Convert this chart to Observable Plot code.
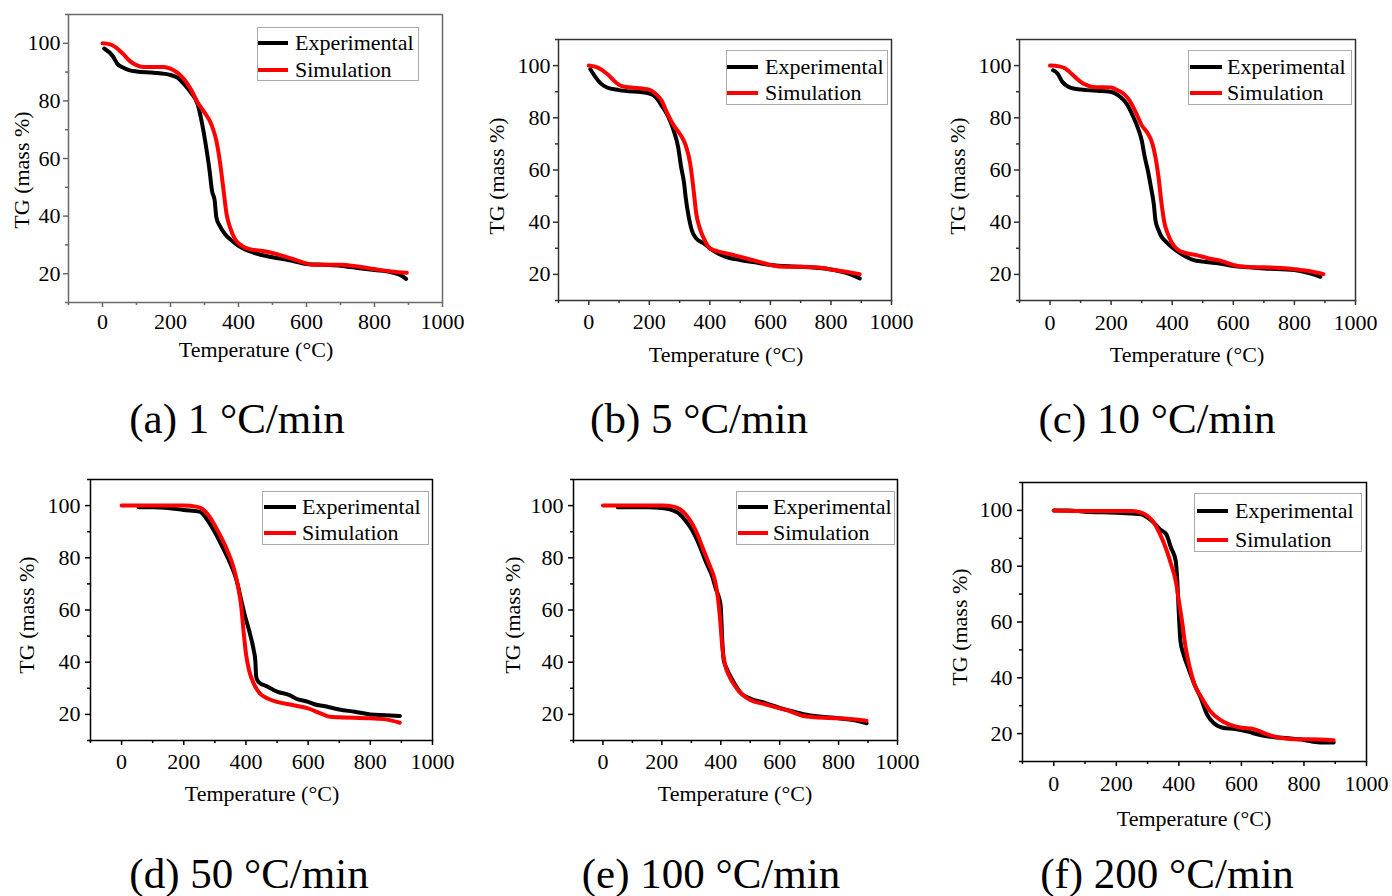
<!DOCTYPE html>
<html>
<head>
<meta charset="utf-8">
<script src="https://cdn.jsdelivr.net/npm/d3@7"></script>
<script src="https://cdn.jsdelivr.net/npm/@observablehq/plot@0.6"></script>
<style>
  html, body { margin: 0; padding: 0; background: #fff; }
  #root { position: relative; width: 1392px; height: 896px; overflow: hidden; background: #fff; font-family: "Liberation Serif", "Times New Roman", serif; color: #000; }
  #root svg, #root svg text { font-family: "Liberation Serif", "Times New Roman", serif !important; }
  .lbl { position: absolute; white-space: nowrap; line-height: 1; transform: translate(-50%, -50%); }
  .ylbl { position: absolute; white-space: nowrap; line-height: 1; transform: translate(-50%, -50%) rotate(-90deg); }
  .legend { position: absolute; border: 1px solid #aaa; background: #fff; box-sizing: border-box; }
  .legline { position: absolute; height: 4px; }
  .legtext { position: absolute; white-space: nowrap; line-height: 1; transform: translateY(-50%); font-size: 22px; }
</style>
</head>
<body>
<div id="root"></div>
<script>
// ---------------- data ----------------
const xMajorTicks = [0, 200, 400, 600, 800, 1000];
const xMinorTicks = [-100, 100, 300, 500, 700, 900];
const yMajorTicks = [20, 40, 60, 80, 100];
const yMinorTicks = [10, 30, 50, 70, 90, 110];
const seriesNames = ["Experimental", "Simulation"];
const captions = ["(a) 1 °C/min", "(b) 5 °C/min", "(c) 10 °C/min", "(d) 50 °C/min", "(e) 100 °C/min", "(f) 200 °C/min"];

// (a) 1 °C/min
const aExpT  = [5, 30, 45, 60, 80, 100, 150, 200, 220, 240, 260, 280, 295, 305, 315, 322, 330, 335, 345, 360, 380, 400, 450, 500, 550, 600, 650, 700, 750, 800, 850, 880, 893];
const aExpTG = [98.2, 95.6, 92.7, 91.6, 90.6, 90.2, 89.8, 89.0, 88.1, 85.8, 82.9, 78.8, 70.8, 63.8, 55.7, 48.8, 45.3, 39.5, 36.6, 33.8, 31.5, 29.7, 27.1, 25.7, 24.7, 23.4, 23.1, 22.8, 22.0, 21.3, 20.5, 19.3, 18.2];
const aSimT  = [0, 20, 40, 60, 80, 100, 120, 180, 200, 220, 240, 260, 280, 300, 320, 335, 345, 355, 365, 375, 390, 410, 430, 480, 530, 560, 600, 620, 700, 750, 800, 850, 895];
const aSimTG = [100, 99.7, 98.5, 96.4, 93.9, 92.4, 91.8, 91.8, 91.2, 89.8, 87.5, 84.0, 79.4, 76.0, 71.9, 66.1, 59.2, 50.0, 40.7, 36.1, 32.0, 29.7, 28.6, 27.7, 26.2, 25.1, 23.6, 23.1, 23.1, 22.5, 21.6, 20.8, 20.3];

// (b) 5 °C/min
const bExpT  = [5, 40, 60, 100, 200, 220, 240, 260, 280, 295, 305, 315, 320, 330, 340, 355, 380, 400, 450, 500, 550, 600, 700, 800, 850, 895];
const bExpTG = [98.6, 93.1, 91.6, 90.6, 89.3, 88.0, 84.8, 81.0, 75.3, 68.9, 61.2, 54.8, 49.7, 42.1, 37.0, 33.8, 31.9, 30.0, 26.8, 25.5, 24.6, 23.6, 22.9, 21.9, 20.6, 18.5];
const bSimT  = [0, 30, 60, 90, 110, 200, 220, 240, 260, 280, 300, 320, 335, 345, 355, 365, 380, 400, 430, 480, 530, 570, 600, 650, 700, 760, 800, 850, 895];
const bSimTG = [100, 99.2, 96.9, 93.5, 92.1, 90.8, 89.3, 86.7, 81.6, 77.2, 74.0, 69.5, 62.5, 53.6, 43.4, 38.3, 33.8, 30.0, 28.7, 27.4, 25.8, 24.6, 23.6, 22.9, 22.9, 22.6, 21.9, 21.0, 20.1];

// (c) 10 °C/min
const cExpT  = [10, 25, 40, 60, 80, 120, 200, 230, 250, 270, 290, 300, 310, 320, 330, 340, 345, 355, 365, 380, 400, 430, 470, 500, 550, 600, 650, 700, 800, 850, 885];
const cExpTG = [98.2, 96.9, 93.8, 91.9, 91.1, 90.6, 89.9, 88.0, 85.5, 81.0, 75.3, 71.4, 65.0, 59.9, 53.6, 46.6, 40.8, 37.0, 34.4, 32.5, 30.3, 27.8, 25.5, 24.9, 24.3, 23.2, 22.7, 22.3, 21.7, 20.4, 19.1];
const cSimT  = [0, 30, 50, 70, 100, 120, 140, 200, 220, 240, 260, 280, 300, 320, 335, 345, 355, 365, 375, 385, 400, 420, 440, 480, 520, 560, 600, 640, 700, 780, 820, 860, 895];
const cSimTG = [100, 99.7, 98.9, 96.9, 93.8, 92.5, 91.8, 91.6, 90.6, 89.3, 86.7, 82.3, 77.2, 74.0, 70.1, 65.0, 57.4, 47.2, 39.5, 35.7, 31.9, 29.3, 28.3, 27.4, 26.1, 25.2, 23.6, 22.9, 22.7, 22.3, 21.7, 21.0, 20.1];

// (d) 50 °C/min
const dExpT  = [55, 100, 150, 200, 250, 270, 300, 330, 350, 370, 385, 395, 410, 425, 430, 433, 440, 470, 500, 540, 560, 600, 620, 650, 700, 750, 800, 850, 895];
const dExpTG = [99.4, 99.4, 99.1, 98.3, 97.7, 95.5, 89.8, 82.8, 77.7, 71.3, 63.7, 58.6, 52.2, 44.6, 40.8, 34.4, 32.5, 30.6, 28.7, 27.4, 26.1, 24.8, 23.9, 23.2, 21.9, 21.0, 20.0, 19.7, 19.4];
const dSimT  = [0, 100, 200, 240, 260, 280, 300, 320, 340, 360, 375, 385, 392, 400, 410, 425, 445, 470, 500, 550, 600, 640, 670, 700, 800, 850, 895];
const dSimTG = [100, 100, 100, 99.6, 98.7, 96.2, 92.4, 87.9, 82.8, 76.4, 68.8, 61.1, 52.2, 43.3, 36.9, 31.8, 28.0, 26.1, 24.8, 23.6, 22.3, 20.4, 19.1, 18.9, 18.5, 18.1, 16.8];

// (e) 100 °C/min
const eExpT  = [50, 150, 200, 240, 260, 280, 300, 330, 350, 370, 385, 395, 400, 405, 410, 420, 440, 470, 500, 550, 600, 650, 700, 800, 850, 895];
const eExpTG = [99.4, 99.4, 99.1, 98.1, 96.8, 94.3, 91.1, 84.1, 78.3, 73.2, 67.5, 64.3, 61.1, 48.4, 40.8, 37.6, 33.1, 28.0, 26.1, 24.4, 22.5, 21.0, 19.7, 18.5, 17.8, 16.6];
const eSimT  = [0, 200, 240, 260, 280, 300, 320, 340, 360, 380, 390, 398, 405, 415, 430, 450, 475, 500, 550, 600, 640, 680, 720, 800, 850, 895];
const eSimTG = [100, 100, 99.6, 98.7, 96.8, 93.6, 89.2, 83.4, 77.7, 71.3, 65.0, 56.1, 45.9, 38.9, 34.4, 30.6, 27.4, 25.5, 23.9, 22.3, 21.0, 19.4, 18.9, 18.5, 18.1, 17.6];

// (f) 200 °C/min
const fExpT  = [0, 50, 100, 200, 250, 280, 300, 320, 340, 360, 375, 390, 395, 400, 405, 415, 430, 450, 470, 490, 510, 540, 580, 620, 660, 700, 750, 800, 850, 895];
const fExpTG = [100, 100, 99.5, 99.2, 98.9, 98.6, 97.4, 95.6, 93.2, 91.4, 86.6, 81.9, 74.7, 62.7, 53.2, 48.4, 43.6, 37.6, 32.8, 26.9, 23.9, 22.1, 21.6, 20.7, 19.5, 18.8, 18.3, 17.7, 16.8, 16.8];
const fSimT  = [0, 100, 200, 250, 280, 300, 320, 340, 360, 375, 390, 400, 410, 420, 435, 450, 470, 500, 530, 560, 600, 640, 680, 720, 770, 850, 895];
const fSimTG = [100, 99.8, 99.8, 99.8, 99.2, 98.0, 95.6, 91.4, 86.0, 80.7, 74.7, 67.5, 60.4, 52.0, 43.6, 37.6, 33.4, 28.1, 25.1, 23.3, 22.1, 21.6, 19.8, 18.6, 18.0, 17.9, 17.6];

// ---------------- layout (pixels) ----------------
const panels = [
  {expT: aExpT, expTG: aExpTG, simT: aSimT, simTG: aSimTG, L: 68, T: 14, R: 442, B: 302, frame: "#6a6a6a", xPad: 6, yPad: 3,
   xl: [256, 350], yl: [22, 170], leg: [257, 27, 162, 54, 258, 288, 295, 42.7, 70], cap: [237, 418]},
  {expT: bExpT, expTG: bExpTG, simT: bSimT, simTG: bSimTG, L: 558, T: 39, R: 891, B: 300, frame: "#333", xPad: 8, yPad: 3,
   xl: [726, 355], yl: [497, 176], leg: [726, 50, 162, 55, 727, 758, 765, 66.7, 93.3], cap: [699, 418]},
  {expT: cExpT, expTG: cExpTG, simT: cSimT, simTG: cSimTG, L: 1019, T: 39, R: 1355, B: 300, frame: "#333", xPad: 9, yPad: 3,
   xl: [1187, 355], yl: [958, 176], leg: [1188, 50, 164, 55, 1190, 1222, 1227, 66.7, 93.3], cap: [1157, 418]},
  {expT: dExpT, expTG: dExpTG, simT: dSimT, simTG: dSimTG, L: 90, T: 479, R: 432, B: 740, frame: "#000", xPad: 8, yPad: 5,
   xl: [262, 794], yl: [27, 615], leg: [262, 491, 167, 54, 264, 296, 302, 506.7, 533.3], cap: [249, 873]},
  {expT: eExpT, expTG: eExpTG, simT: eSimT, simTG: eSimTG, L: 573, T: 479, R: 897, B: 740, frame: "#000", xPad: 8, yPad: 5,
   xl: [735, 794], yl: [513, 615], leg: [736, 491, 159, 54, 738, 768, 773, 506.7, 533.3], cap: [711, 873]},
  {expT: fExpT, expTG: fExpTG, simT: fSimT, simTG: fSimTG, L: 1022, T: 482, R: 1366, B: 761, frame: "#000", xPad: 9, yPad: 5,
   xl: [1194, 819], yl: [960, 627], leg: [1194, 493, 168, 59, 1197, 1228, 1235, 511, 540], cap: [1167, 873]}
];

const root = document.getElementById("root");
const mL = 62, mT = 10, mR = 34, mB = 44;
const serif = "Liberation Serif";

panels.forEach((p, i) => {
  const exp = p.expT.map((t, k) => ({T: t, TG: p.expTG[k]}));
  const sim = p.simT.map((t, k) => ({T: t, TG: p.simTG[k]}));
  const fw = p.R - p.L, fh = p.B - p.T;
  const chart = Plot.plot({
    width: fw + mL + mR,
    height: fh + mT + mB,
    marginLeft: mL, marginTop: mT, marginRight: mR, marginBottom: mB,
    x: {domain: [-100, 1000]},
    y: {domain: [10, 110]},
    style: {fontFamily: serif, fontSize: "22px", color: "#000", background: "transparent", overflow: "visible"},
    marks: [
      Plot.axisX({ticks: xMajorTicks, tickSize: 5, tickPadding: p.xPad, tickFormat: d => String(d), stroke: p.frame, strokeWidth: 1.5, fill: "#000", label: null, fontSize: 22, fontFamily: serif}),
      Plot.axisX({ticks: xMinorTicks, tickSize: 3, tickFormat: () => "", stroke: p.frame, strokeWidth: 1.5, label: null}),
      Plot.axisY({ticks: yMajorTicks, tickSize: 5, tickPadding: p.yPad, tickFormat: d => String(d), stroke: p.frame, strokeWidth: 1.5, fill: "#000", label: null, fontSize: 22, fontFamily: serif}),
      Plot.axisY({ticks: yMinorTicks, tickSize: 3, tickFormat: () => "", stroke: p.frame, strokeWidth: 1.5, label: null}),
      Plot.line(exp, {x: "T", y: "TG", stroke: "#000", strokeWidth: 4, curve: "monotone-x"}),
      Plot.line(sim, {x: "T", y: "TG", stroke: "#ff0000", strokeWidth: 4, curve: "monotone-x"}),
      Plot.frame({stroke: p.frame, strokeWidth: 1.5})
    ]
  });
  chart.style.position = "absolute";
  chart.style.left = (p.L - mL) + "px";
  chart.style.top = (p.T - mT) + "px";
  root.appendChild(chart);

  // axis titles
  const xl = document.createElement("div");
  xl.className = "lbl"; xl.style.fontSize = "22px";
  xl.style.left = p.xl[0] + "px"; xl.style.top = p.xl[1] + "px";
  xl.textContent = "Temperature (°C)";
  root.appendChild(xl);
  const yl = document.createElement("div");
  yl.className = "ylbl"; yl.style.fontSize = "22px";
  yl.style.left = p.yl[0] + "px"; yl.style.top = p.yl[1] + "px";
  yl.textContent = "TG (mass %)";
  root.appendChild(yl);

  // legend
  const [lx, ly, lw, lh, sx0, sx1, tx, y1, y2] = p.leg;
  const box = document.createElement("div");
  box.className = "legend";
  box.style.left = lx + "px"; box.style.top = ly + "px";
  box.style.width = lw + "px"; box.style.height = lh + "px";
  root.appendChild(box);
  [["#000", y1, seriesNames[0]], ["#ff0000", y2, seriesNames[1]]].forEach(([col, yy, name]) => {
    const ln = document.createElement("div");
    ln.className = "legline";
    ln.style.background = col;
    ln.style.left = sx0 + "px"; ln.style.width = (sx1 - sx0) + "px";
    ln.style.top = (yy - 2) + "px";
    root.appendChild(ln);
    const tt = document.createElement("div");
    tt.className = "legtext";
    tt.style.left = tx + "px"; tt.style.top = yy + "px";
    tt.textContent = name;
    root.appendChild(tt);
  });

  // caption
  const cap = document.createElement("div");
  cap.className = "lbl"; cap.style.fontSize = "43px";
  cap.style.left = p.cap[0] + "px"; cap.style.top = p.cap[1] + "px";
  cap.textContent = captions[i];
  root.appendChild(cap);
});
</script>
</body>
</html>
